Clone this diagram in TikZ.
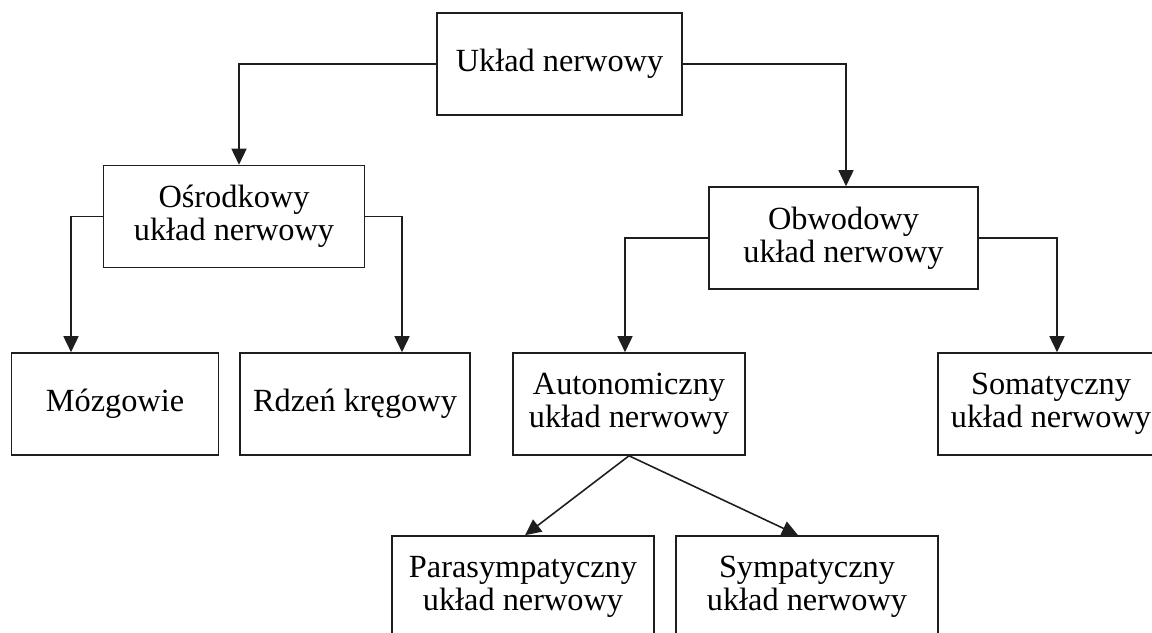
\documentclass[tikz,border=0pt]{standalone}
\usepackage{fontspec}
\setmainfont{Liberation Serif}
\usepackage{tikz}
\usetikzlibrary{arrows.meta,positioning}
\definecolor{linegray}{HTML}{1E1E1E}

\begin{document}
\begin{tikzpicture}[
  box/.style={rectangle, draw=linegray, line width=0.9pt, fill=white, minimum width=#1, minimum height=2.04cm, align=center, font=\fontsize{18.4}{18.6}\selectfont, inner sep=2pt},
  arr/.style={-{Triangle[length=0.32cm, width=0.3cm]}, line width=0.9pt, linegray}
]
  \useasboundingbox (0,0) rectangle (23.04,-12.64);

  \node[box=4.9cm] (nerv) at (11.19, -1.28) {Układ nerwowy};

  \node[box=5.22cm] (cns) at (4.68, -4.33) {Ośrodkowy\\układ nerwowy};
  \node[box=5.38cm] (pns) at (16.87, -4.76) {Obwodowy\\układ nerwowy};

  \node[box=4.14cm] (brain) at (2.30, -8.08) {Mózgowie};
  \node[box=4.6cm] (cord) at (7.10, -8.08) {Rdzeń kręgowy};
  \node[box=4.64cm] (ans) at (12.58, -8.08) {Autonomiczny\\układ nerwowy};
  \node[box=4.52cm] (sns) at (21.02, -8.08) {Somatyczny\\układ nerwowy};

  \node[box=5.24cm] (para) at (10.46, -11.74) {Parasympatyczny\\układ nerwowy};
  \node[box=5.24cm] (symp) at (16.14, -11.74) {Sympatyczny\\układ nerwowy};

  \draw[arr] (nerv.west) -| ([xshift=0.1cm]cns.north);
  \draw[arr] (nerv.east) -| ([xshift=0.05cm]pns.north);
  \draw[arr] (cns.west) -| ([xshift=-0.88cm]brain.north);
  \draw[arr] (cns.east) -| ([xshift=0.94cm]cord.north);
  \draw[arr] (pns.west) -| ([xshift=-0.08cm]ans.north);
  \draw[arr] (pns.east) -| ([xshift=0.12cm]sns.north);
  \draw[arr] (ans.south) -- ([xshift=0.04cm]para.north);
  \draw[arr] (ans.south) -- ([xshift=-0.18cm]symp.north);
\end{tikzpicture}
\end{document}
